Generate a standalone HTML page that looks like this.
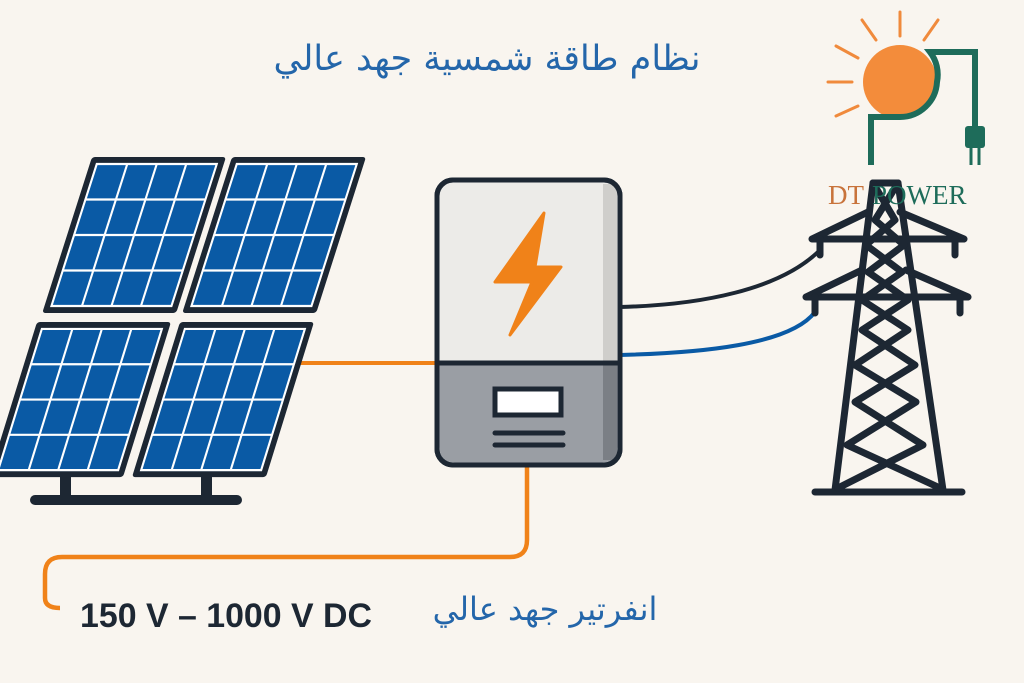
<!DOCTYPE html>
<html><head><meta charset="utf-8"><style>
html,body{margin:0;padding:0;background:#f9f5ef;}
svg{display:block}
</style></head><body>
<svg width="1024" height="683" viewBox="0 0 1024 683" xmlns="http://www.w3.org/2000/svg">
<defs>
<g id="panel">
<rect x="0" y="0" width="134" height="156" rx="3" fill="#1d2733"/>
<rect x="6" y="6" width="122" height="144" fill="#0a5aa5"/>
<g stroke="#ffffff" stroke-width="2.2">
<rect x="7" y="7" width="120" height="142" fill="none"/>
<line x1="37.5" y1="7" x2="37.5" y2="149"/>
<line x1="67" y1="7" x2="67" y2="149"/>
<line x1="96.5" y1="7" x2="96.5" y2="149"/>
<line x1="7" y1="42.5" x2="127" y2="42.5"/>
<line x1="7" y1="78" x2="127" y2="78"/>
<line x1="7" y1="113.5" x2="127" y2="113.5"/>
</g>
</g>
</defs>
<rect width="1024" height="683" fill="#f9f5ef"/>

<!-- wires -->
<path d="M300 363 L437 363" stroke="#f08219" stroke-width="4" fill="none"/>
<path d="M527 465 L527 540 Q527 557 510 557 L62 557 Q45 557 45 574 L45 598 Q45 608 60 608" stroke="#f08219" stroke-width="4.5" fill="none"/>
<path d="M620 307 C700 305 780 290 820 250" stroke="#1d2733" stroke-width="4" fill="none"/>
<path d="M620 355 C700 353 790 345 815 312" stroke="#0a5aa5" stroke-width="4" fill="none"/>

<!-- panels -->
<g transform="translate(92,157) skewX(-17.7)"><use href="#panel"/></g>
<g transform="translate(232,157) skewX(-17.7)"><use href="#panel"/></g>
<g transform="translate(37,322) skewX(-17.2)"><use href="#panel" transform="scale(1,0.994)"/></g>
<g transform="translate(180,322) skewX(-17.2)"><use href="#panel" transform="scale(1,0.994)"/></g>
<g fill="#1d2733">
<rect x="60" y="476" width="11" height="24"/>
<rect x="201" y="476" width="11" height="24"/>
<rect x="30" y="495" width="212" height="10" rx="5"/>
</g>

<!-- inverter -->
<rect x="437" y="180" width="183" height="285" rx="16" fill="#ecebe8" stroke="#1d2733" stroke-width="5"/>
<rect x="603" y="184" width="14" height="178" fill="#cfcecb"/>
<path d="M439.5 363 L617.5 363 L617.5 447 Q617.5 462.5 602 462.5 L455 462.5 Q439.5 462.5 439.5 447 Z" fill="#9a9ea4"/>
<rect x="603" y="364" width="14" height="96" fill="#7b7f85"/>
<rect x="437" y="180" width="183" height="285" rx="16" fill="none" stroke="#1d2733" stroke-width="5"/>
<line x1="437" y1="363" x2="620" y2="363" stroke="#1d2733" stroke-width="5"/>
<rect x="495" y="389" width="66" height="26" fill="#ffffff" stroke="#1d2733" stroke-width="5"/>
<line x1="495" y1="433" x2="563" y2="433" stroke="#1d2733" stroke-width="5" stroke-linecap="round"/>
<line x1="495" y1="445" x2="563" y2="445" stroke="#1d2733" stroke-width="5" stroke-linecap="round"/>
<path d="M544 213 L495 282 L532 282 L510 335 L561 267 L535 267 Z" fill="#f08219" stroke="#f08219" stroke-width="3" stroke-linejoin="round"/>

<!-- tower -->
<g stroke="#1d2733" stroke-width="7" fill="none" stroke-linecap="round" stroke-linejoin="round">
<path d="M873 183 L898 183"/>
<path d="M873 183 L835 490 M898 183 L943 490"/>
<path d="M815 492 L962 492"/>
<path d="M873 183 L895 220 L866 245 L902 272 L862 300 L908 330 L855 365 L916 402 L847 445 L940 488 M898 183 L875 220 L904 245 L868 272 L908 300 L862 330 L915 365 L855 402 L923 445 L838 488"/>
<path d="M812 239 L964 239 M812 239 L868 212 M964 239 L900 212"/>
<path d="M820 239 L820 255 M955 239 L955 255"/>
<path d="M806 297 L968 297 M806 297 L862 270 M968 297 L906 270"/>
<path d="M815 297 L815 313 M960 297 L960 313"/>
</g>

<!-- logo -->
<g stroke="#f08a3c" stroke-width="3" stroke-linecap="round">
<line x1="900" y1="12" x2="900" y2="36"/>
<line x1="862" y1="20" x2="876" y2="40"/>
<line x1="938" y1="20" x2="924" y2="40"/>
<line x1="836" y1="46" x2="858" y2="58"/>
<line x1="828" y1="82" x2="852" y2="82"/>
<line x1="836" y1="116" x2="858" y2="106"/>
</g>
<circle cx="900" cy="82" r="37" fill="#f38c3b"/>
<path d="M871 165 L871 117 L900 117 A37 37 0 0 0 937 82 A37 37 0 0 0 930 52 L975 52 L975 128" stroke="#1e6c5a" stroke-width="6" fill="none"/>
<rect x="965" y="126" width="20" height="22" rx="3" fill="#1e6c5a"/>
<line x1="971" y1="148" x2="971" y2="165" stroke="#1e6c5a" stroke-width="3"/>
<line x1="979" y1="148" x2="979" y2="165" stroke="#1e6c5a" stroke-width="3"/>
<text x="828" y="204" font-family="Liberation Serif, serif" font-size="27" fill="#c8733b">DT</text>
<text x="872" y="204" font-family="Liberation Serif, serif" font-size="27" fill="#1e6c5a">POWER</text>

<!-- texts -->
<text x="487" y="70" text-anchor="middle" font-family="'DejaVu Sans', sans-serif" font-size="35" fill="#2466aa" direction="rtl">نظام طاقة شمسية جهد عالي</text>
<text x="545" y="620" text-anchor="middle" font-family="'DejaVu Sans', sans-serif" font-size="32" fill="#2466aa" direction="rtl">انفرتير جهد عالي</text>
<text x="80" y="627" font-family="'Liberation Sans', sans-serif" font-weight="bold" font-size="34" fill="#1d2733" textLength="292" lengthAdjust="spacingAndGlyphs">150 V – 1000 V DC</text>
</svg>
</body></html>
